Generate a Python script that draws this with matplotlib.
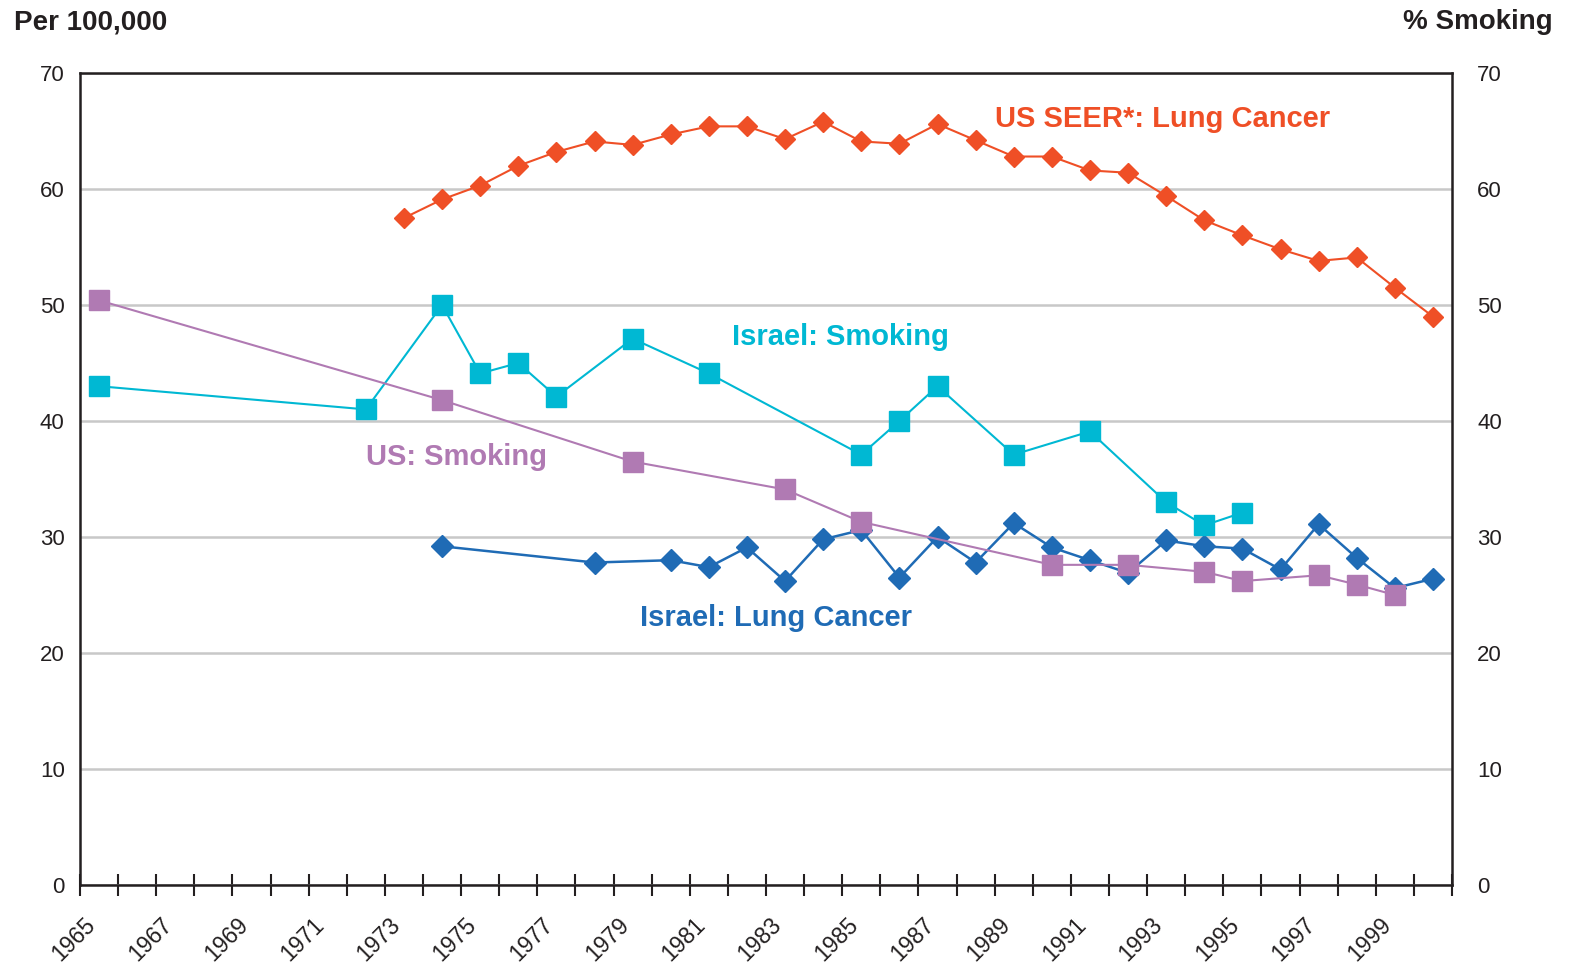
import numpy as np
import matplotlib.pyplot as plt
from matplotlib.transforms import ScaledTranslation

# US SEER lung cancer incidence (per 100,000)
seer_years = list(range(1973, 2001))
seer_vals = [57.5, 59.1, 60.3, 62.0, 63.2, 64.1, 63.8, 64.7, 65.4, 65.4,
             64.3, 65.8, 64.1, 63.9, 65.6, 64.2, 62.8, 62.8, 61.6, 61.4,
             59.4, 57.3, 56.0, 54.8, 53.8, 54.1, 51.5, 49.0]

# Israel smoking (%)
isr_smk_years = [1965, 1972, 1974, 1975, 1976, 1977, 1979, 1981, 1985, 1986,
                 1987, 1989, 1991, 1993, 1994, 1995]
isr_smk_vals = [43.0, 41.0, 50.0, 44.1, 45.0, 42.1, 47.1, 44.1, 37.1, 40.0,
                43.0, 37.1, 39.1, 33.0, 31.0, 32.1]

# US smoking (%)
us_smk_years = [1965, 1974, 1979, 1983, 1985, 1990, 1992, 1994, 1995, 1997, 1998, 1999]
us_smk_vals = [50.4, 41.8, 36.5, 34.1, 31.3, 27.6, 27.6, 27.0, 26.2, 26.7, 25.9, 25.0]

# Israel lung cancer (per 100,000)
isr_lc_years = [1974, 1978, 1980, 1981, 1982, 1983, 1984, 1985, 1986, 1987, 1988,
                1989, 1990, 1991, 1992, 1993, 1994, 1995, 1996, 1997, 1998, 1999, 2000]
isr_lc_vals = [29.2, 27.8, 28.0, 27.4, 29.1, 26.2, 29.8, 30.6, 26.5, 30.0, 27.8,
               31.2, 29.1, 28.0, 26.9, 29.7, 29.2, 29.0, 27.2, 31.1, 28.2, 25.6, 26.4]

tick_years = list(range(1965, 2002))
label_years = list(range(1965, 2001, 2))

RED = '#EF4F26'
CYAN = '#00B8D3'
PURPLE = '#B07AB3'
BLUE = '#1F6BB5'
DARK = '#231f20'

plt.rcParams['font.family'] = ['Liberation Sans', 'DejaVu Sans']

fig = plt.figure(figsize=(15.76, 9.63), dpi=100)
ax = fig.add_axes([80/1576, 1-885/963, (1452-80)/1576, (885-73)/963])

def xs(years):
    # points sit in the middle of each year slot
    return np.array(years) + 0.5

ax.plot(xs(seer_years), seer_vals, color=RED, lw=1.5, marker='D', ms=10.5, zorder=3)
ax.plot(xs(isr_lc_years), isr_lc_vals, color=BLUE, lw=1.8, marker='D', ms=11, zorder=4)
ax.plot(xs(isr_smk_years), isr_smk_vals, color=CYAN, lw=1.5, marker='s', ms=14, zorder=5)
ax.plot(xs(us_smk_years), us_smk_vals, color=PURPLE, lw=1.5, marker='s', ms=14, zorder=6)

ax.set_xlim(1965, 2001)
ax.set_ylim(0, 70)
ax.set_yticks(range(0, 71, 10))
ax.grid(axis='y', color='#c8c8c8', lw=1.8)
ax.set_axisbelow(True)
for s in ['left', 'bottom', 'right', 'top']:
    ax.spines[s].set_color(DARK)
    ax.spines[s].set_linewidth(1.8)

ax.set_xticks(tick_years)
ax.set_xticklabels([str(y) if y in label_years else '' for y in tick_years],
                   rotation=45, ha='right', va='center', rotation_mode='anchor',
                   fontsize=16.5, color=DARK)
ax.tick_params(axis='x', direction='inout', length=16, width=1.5, color=DARK, pad=18)
for lbl in ax.get_xticklabels():
    lbl.set_transform(lbl.get_transform() + ScaledTranslation(12/100, 0, fig.dpi_scale_trans))
ax.tick_params(axis='y', length=0, labelsize=16, labelcolor=DARK, pad=11)

ax2 = ax.twinx()
ax2.set_ylim(0, 70)
ax2.set_yticks(range(0, 71, 10))
ax2.tick_params(axis='y', length=0, labelsize=16, labelcolor=DARK, pad=18)
for s in ax2.spines.values():
    s.set_visible(False)

fig.text(14/1576, 1-9/963, 'Per 100,000', fontsize=20, fontweight='bold',
         color=DARK, ha='left', va='top')
fig.text(1553/1576, 1-9/963, '% Smoking', fontsize=20, fontweight='bold',
         color=DARK, ha='right', va='top')

ax.text(1993.4, 66.0, 'US SEER*: Lung Cancer', color=RED, fontsize=21, fontweight='bold',
        ha='center', va='center')
ax.text(1984.95, 47.2, 'Israel: Smoking', color=CYAN, fontsize=21, fontweight='bold',
        ha='center', va='center')
ax.text(1974.87, 36.9, 'US: Smoking', color=PURPLE, fontsize=21, fontweight='bold',
        ha='center', va='center')
ax.text(1983.26, 23.0, 'Israel: Lung Cancer', color=BLUE, fontsize=21, fontweight='bold',
        ha='center', va='center')

fig.savefig('out.png', dpi=100)
